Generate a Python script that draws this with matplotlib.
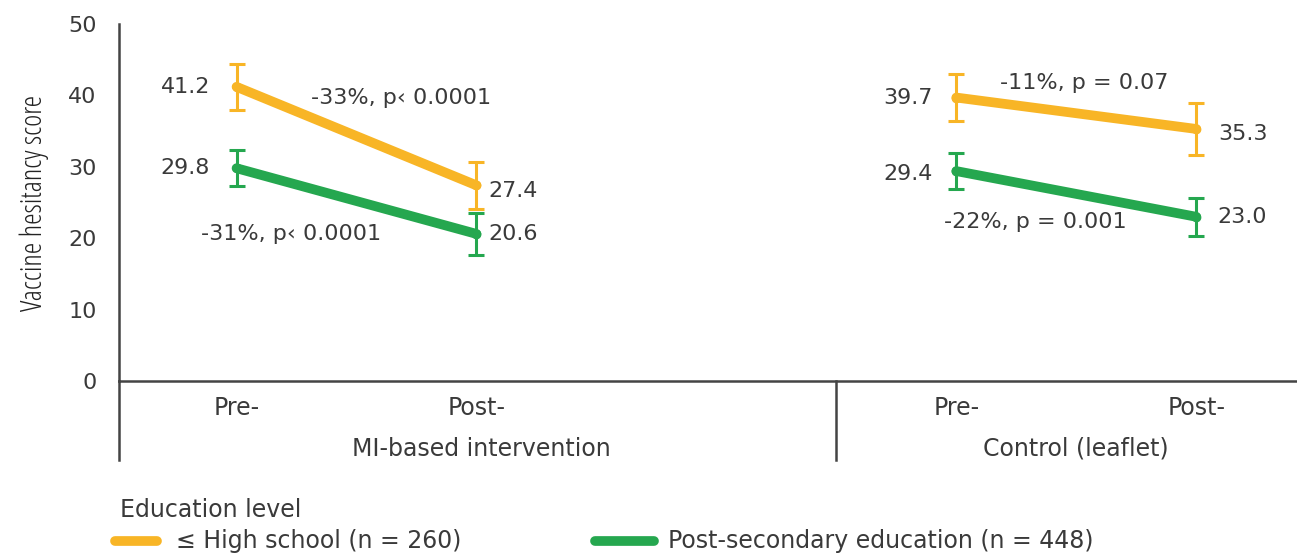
import matplotlib.pyplot as plt
from matplotlib.lines import Line2D

plt.rcParams['font.family'] = ['DejaVu Sans']

# time points and arms
times = ["Pre-", "Post-", "Pre-", "Post-"]
arms = ["MI-based intervention", "Control (leaflet)"]
x_mi = [0, 1]
x_ctrl = [3, 4]

# mean vaccine hesitancy score and error half-widths
high_mi = [41.2, 27.4]
high_mi_err = [3.2, 3.3]
high_ctrl = [39.7, 35.3]
high_ctrl_err = [3.3, 3.6]
post_mi = [29.8, 20.6]
post_mi_err = [2.5, 2.9]
post_ctrl = [29.4, 23.0]
post_ctrl_err = [2.5, 2.7]

change_labels = ["-33%, p\u2039 0.0001", "-31%, p\u2039 0.0001",
                 "-11%, p = 0.07", "-22%, p = 0.001"]
legend_labels = ["\u2264 High school (n = 260)", "Post-secondary education (n = 448)"]

yellow = "#F8B526"
green = "#25A74F"
txt = "#3a3a3a"
fs = 16

fig = plt.figure(figsize=(12.97, 5.53), dpi=100)
ax = fig.add_axes([119 / 1297, 1 - 381 / 553, 1 - 119 / 1297, (381 - 24) / 553])

for xs, ys, es, c in [(x_mi, high_mi, high_mi_err, yellow),
                      (x_ctrl, high_ctrl, high_ctrl_err, yellow),
                      (x_mi, post_mi, post_mi_err, green),
                      (x_ctrl, post_ctrl, post_ctrl_err, green)]:
    ax.plot(xs, ys, color=c, lw=7, solid_capstyle='round', zorder=3)
    ax.errorbar(xs, ys, yerr=es, fmt='o', ms=6, color=c, ecolor=c,
                elinewidth=2.2, capsize=6, capthick=2.2, zorder=4)

ax.set_xlim(-0.49, 4.42)
ax.set_ylim(0, 50)
ax.set_yticks([0, 10, 20, 30, 40, 50])
ax.tick_params(axis='y', length=0, pad=16, labelsize=fs, labelcolor=txt)
ax.set_xticks([])
for s in ['top', 'right']:
    ax.spines[s].set_visible(False)
for s in ['left', 'bottom']:
    ax.spines[s].set_color('#444444')
    ax.spines[s].set_linewidth(1.8)
ax.set_ylabel("Vaccine hesitancy score", fontsize=21, color='#222222',
              family='Open Sans', fontstretch='condensed', labelpad=14)

# category axis below the plot area
trans = ax.get_xaxis_transform()
ax.add_line(Line2D([-0.49, -0.49], [0, -0.22], transform=trans, color='#444444',
                   lw=1.8, clip_on=False))
ax.add_line(Line2D([2.5, 2.5], [0, -0.22], transform=trans, color='#444444',
                   lw=1.8, clip_on=False))
for x, t in zip(x_mi + x_ctrl, times):
    ax.text(x, -0.075, t, transform=trans, ha='center', va='center',
            fontsize=17, color=txt)
ax.text(1.02, -0.19, arms[0], transform=trans, ha='center', va='center',
        fontsize=17, color=txt)
ax.text(3.50, -0.19, arms[1], transform=trans, ha='center', va='center',
        fontsize=17, color=txt)

# point values
ax.text(x_mi[0] - 0.11, high_mi[0], f"{high_mi[0]:.1f}", ha='right', va='center', fontsize=fs, color=txt)
ax.text(x_mi[0] - 0.11, post_mi[0], f"{post_mi[0]:.1f}", ha='right', va='center', fontsize=fs, color=txt)
ax.text(x_mi[1] + 0.05, high_mi[1] - 0.8, f"{high_mi[1]:.1f}", ha='left', va='center', fontsize=fs, color=txt)
ax.text(x_mi[1] + 0.05, post_mi[1], f"{post_mi[1]:.1f}", ha='left', va='center', fontsize=fs, color=txt)
ax.text(x_ctrl[0] - 0.10, high_ctrl[0], f"{high_ctrl[0]:.1f}", ha='right', va='center', fontsize=fs, color=txt)
ax.text(x_ctrl[0] - 0.10, post_ctrl[0] - 0.4, f"{post_ctrl[0]:.1f}", ha='right', va='center', fontsize=fs, color=txt)
ax.text(x_ctrl[1] + 0.09, high_ctrl[1] - 0.7, f"{high_ctrl[1]:.1f}", ha='left', va='center', fontsize=fs, color=txt)
ax.text(x_ctrl[1] + 0.09, post_ctrl[1], f"{post_ctrl[1]:.1f}", ha='left', va='center', fontsize=fs, color=txt)

# change annotations
ax.text(0.31, 39.7, change_labels[0], ha='left', va='center', fontsize=fs, color=txt)
ax.text(-0.15, 20.6, change_labels[1], ha='left', va='center', fontsize=fs, color=txt)
ax.text(3.18, 41.8, change_labels[2], ha='left', va='center', fontsize=fs, color=txt)
ax.text(2.95, 22.3, change_labels[3], ha='left', va='center', fontsize=fs, color=txt)

# legend
fig.text(120 / 1297, 1 - 510 / 553, "Education level", ha='left', va='center',
         fontsize=17, color=txt)
ly = 1 - 541 / 553
fig.add_artist(Line2D([115 / 1297, 157 / 1297], [ly, ly], color=yellow, lw=7,
                      solid_capstyle='round'))
fig.text(176 / 1297, ly, legend_labels[0], ha='left', va='center', fontsize=17, color=txt)
fig.add_artist(Line2D([595 / 1297, 654 / 1297], [ly, ly], color=green, lw=7,
                      solid_capstyle='round'))
fig.text(668 / 1297, ly, legend_labels[1], ha='left', va='center', fontsize=17, color=txt)

fig.savefig("out.png", dpi=100)
